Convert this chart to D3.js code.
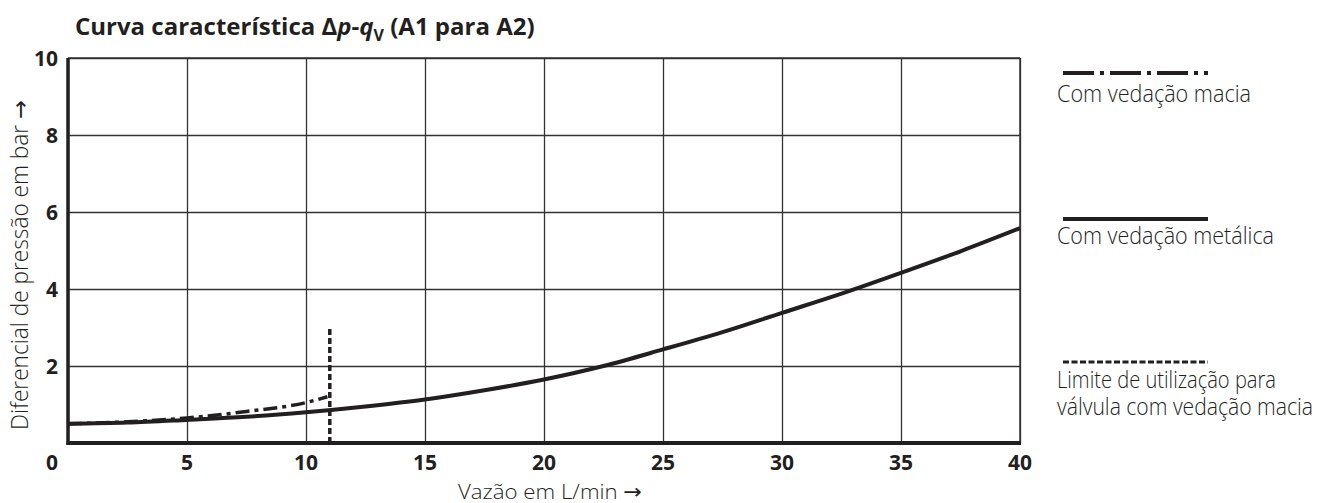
<!DOCTYPE html>
<html lang="pt">
<head>
<meta charset="UTF-8">
<title>Curva característica Δp-qV</title>
<script src="https://d3js.org/d3.v7.min.js"></script>
<style>
  body { margin: 0; background: #fff; }
  svg text { fill: #231f20; }
  .tick-label { font-family: "Open Sans", sans-serif; font-weight: 700; font-size: 21px; }
  .light { font-family: "Open Sans", sans-serif; font-weight: 300; font-size: 24px; }
  .arrow { font-family: "DejaVu Sans", sans-serif; font-weight: 400; }
</style>
</head>
<body>
<svg width="1332" height="503"></svg>
<script>
// dados
const xTicks = [0, 5, 10, 15, 20, 25, 30, 35, 40];
const yTicks = [2, 4, 6, 8, 10];

// vedação metálica (linha contínua)
const metalQ = [0, 2.5, 5, 7.5, 10, 12.5, 15, 17.5, 20, 22.5, 25, 27.5, 30, 32.5, 35, 37.5, 40];
const metalP = [0.5, 0.53, 0.6, 0.68, 0.8, 0.95, 1.13, 1.37, 1.65, 2.0, 2.43, 2.88, 3.38, 3.88, 4.42, 4.98, 5.58];

// vedação macia (traço-ponto)
const softQ = [0, 2.5, 5, 7.5, 10, 10.9];
const softP = [0.5, 0.55, 0.65, 0.82, 1.05, 1.2];

// limite de utilização
const limitQ = [11, 11];
const limitP = [0, 3];

const legendLabels = [
  ["Com vedação macia"],
  ["Com vedação metálica"],
  ["Limite de utilização para", "válvula com vedação macia"]
];

const margin = {top: 58, right: 312, bottom: 60, left: 68};
const width = 1332 - margin.left - margin.right,
      height = 503 - margin.top - margin.bottom;

const x = d3.scaleLinear().domain([0, 40]).range([0, width]);
const y = d3.scaleLinear().domain([0, 10]).range([height, 0]);

const svg = d3.select("svg");
const g = svg.append("g").attr("transform", "translate(" + margin.left + "," + margin.top + ")");

// título
const title = svg.append("text")
  .attr("x", 75).attr("y", 35)
  .style("font-family", "'Open Sans', sans-serif")
  .style("font-weight", 700)
  .style("font-size", "24px");
title.append("tspan").text("Curva característica Δ");
title.append("tspan").style("font-style", "italic").text("p");
title.append("tspan").text("-");
title.append("tspan").style("font-style", "italic").text("q");
title.append("tspan").attr("dy", 6).style("font-size", "16px").text("V");
title.append("tspan").attr("dy", -6).text(" (A1 para A2)");

// grade
g.append("g")
  .attr("transform", "translate(0," + height + ")")
  .call(d3.axisBottom(x).tickValues(xTicks).tickSize(-height).tickFormat(""))
  .call(a => a.select(".domain").remove())
  .selectAll("line").attr("stroke", "#333").attr("stroke-width", 1.3);

g.append("g")
  .call(d3.axisLeft(y).tickValues(yTicks).tickSize(-width).tickFormat(""))
  .call(a => a.select(".domain").remove())
  .selectAll("line").attr("stroke", "#333").attr("stroke-width", 1.3);

// moldura
g.append("line").attr("x1", 0).attr("x2", width).attr("y1", 0).attr("y2", 0)
  .attr("stroke", "#333").attr("stroke-width", 1.5);
g.append("line").attr("x1", width).attr("x2", width).attr("y1", 0).attr("y2", height)
  .attr("stroke", "#333").attr("stroke-width", 1.5);
g.append("line").attr("x1", 0).attr("x2", 0).attr("y1", 0).attr("y2", height + 2)
  .attr("stroke", "#231f20").attr("stroke-width", 3.5);
g.append("line").attr("x1", -1.5).attr("x2", width + 1).attr("y1", height).attr("y2", height)
  .attr("stroke", "#231f20").attr("stroke-width", 4);

// rótulos dos eixos
g.selectAll(".xlab").data(xTicks).enter().append("text")
  .attr("class", "tick-label")
  .attr("x", d => d === 0 ? x(d) - 16 : x(d))
  .attr("y", height + 27)
  .attr("text-anchor", "middle")
  .text(d => d);

g.selectAll(".ylab").data(yTicks).enter().append("text")
  .attr("class", "tick-label")
  .attr("x", -10)
  .attr("y", d => y(d))
  .attr("dy", "0.36em")
  .attr("text-anchor", "end")
  .text(d => d);

const xTitle = svg.append("text").attr("class", "light")
  .style("font-size", "21px")
  .attr("x", 458).attr("y", 499)
  .attr("textLength", 184).attr("lengthAdjust", "spacingAndGlyphs");
xTitle.append("tspan").text("Vazão em L/min ");
xTitle.append("tspan").attr("class", "arrow").text("→");

const yTitle = svg.append("text").attr("class", "light")
  .style("font-size", "23px")
  .attr("transform", "translate(28,430) rotate(-90)")
  .attr("textLength", 330).attr("lengthAdjust", "spacingAndGlyphs");
yTitle.append("tspan").text("Diferencial de pressão em bar ");
yTitle.append("tspan").attr("class", "arrow").text("→");

// curvas
const line = d3.line().x(d => x(d[0])).y(d => y(d[1])).curve(d3.curveMonotoneX);

g.append("path")
  .datum(softQ.map((q, i) => [q, softP[i]]))
  .attr("fill", "none").attr("stroke", "#231f20").attr("stroke-width", 3.5)
  .attr("stroke-dasharray", "14,5,4,5")
  .attr("d", line);

g.append("path")
  .datum(metalQ.map((q, i) => [q, metalP[i]]))
  .attr("fill", "none").attr("stroke", "#231f20").attr("stroke-width", 4)
  .attr("d", line);

g.append("path")
  .datum(limitQ.map((q, i) => [q, limitP[i]]))
  .attr("fill", "none").attr("stroke", "#231f20").attr("stroke-width", 3.5)
  .attr("stroke-dasharray", "6,3")
  .attr("d", d3.line().x(d => x(d[0])).y(d => y(d[1])));

// legenda
const legendY = [73, 219, 362];
const legendDash = ["31,6,4,6", null, "6,2.5"];
const legendBase = [[101.5], [243.5], [387.5, 415]];
const legendLen = [[194], [217], [219, 256]];
const leg = svg.append("g");
legendLabels.forEach((lines, i) => {
  leg.append("line")
    .attr("x1", 1063).attr("x2", 1208)
    .attr("y1", legendY[i]).attr("y2", legendY[i])
    .attr("stroke", "#231f20").attr("stroke-width", i === 2 ? 3 : 4)
    .attr("stroke-dasharray", legendDash[i]);
  lines.forEach((t, j) => {
    leg.append("text").attr("class", "light")
      .attr("x", 1057).attr("y", legendBase[i][j])
      .attr("textLength", legendLen[i][j]).attr("lengthAdjust", "spacingAndGlyphs")
      .text(t);
  });
});
</script>
</body>
</html>
